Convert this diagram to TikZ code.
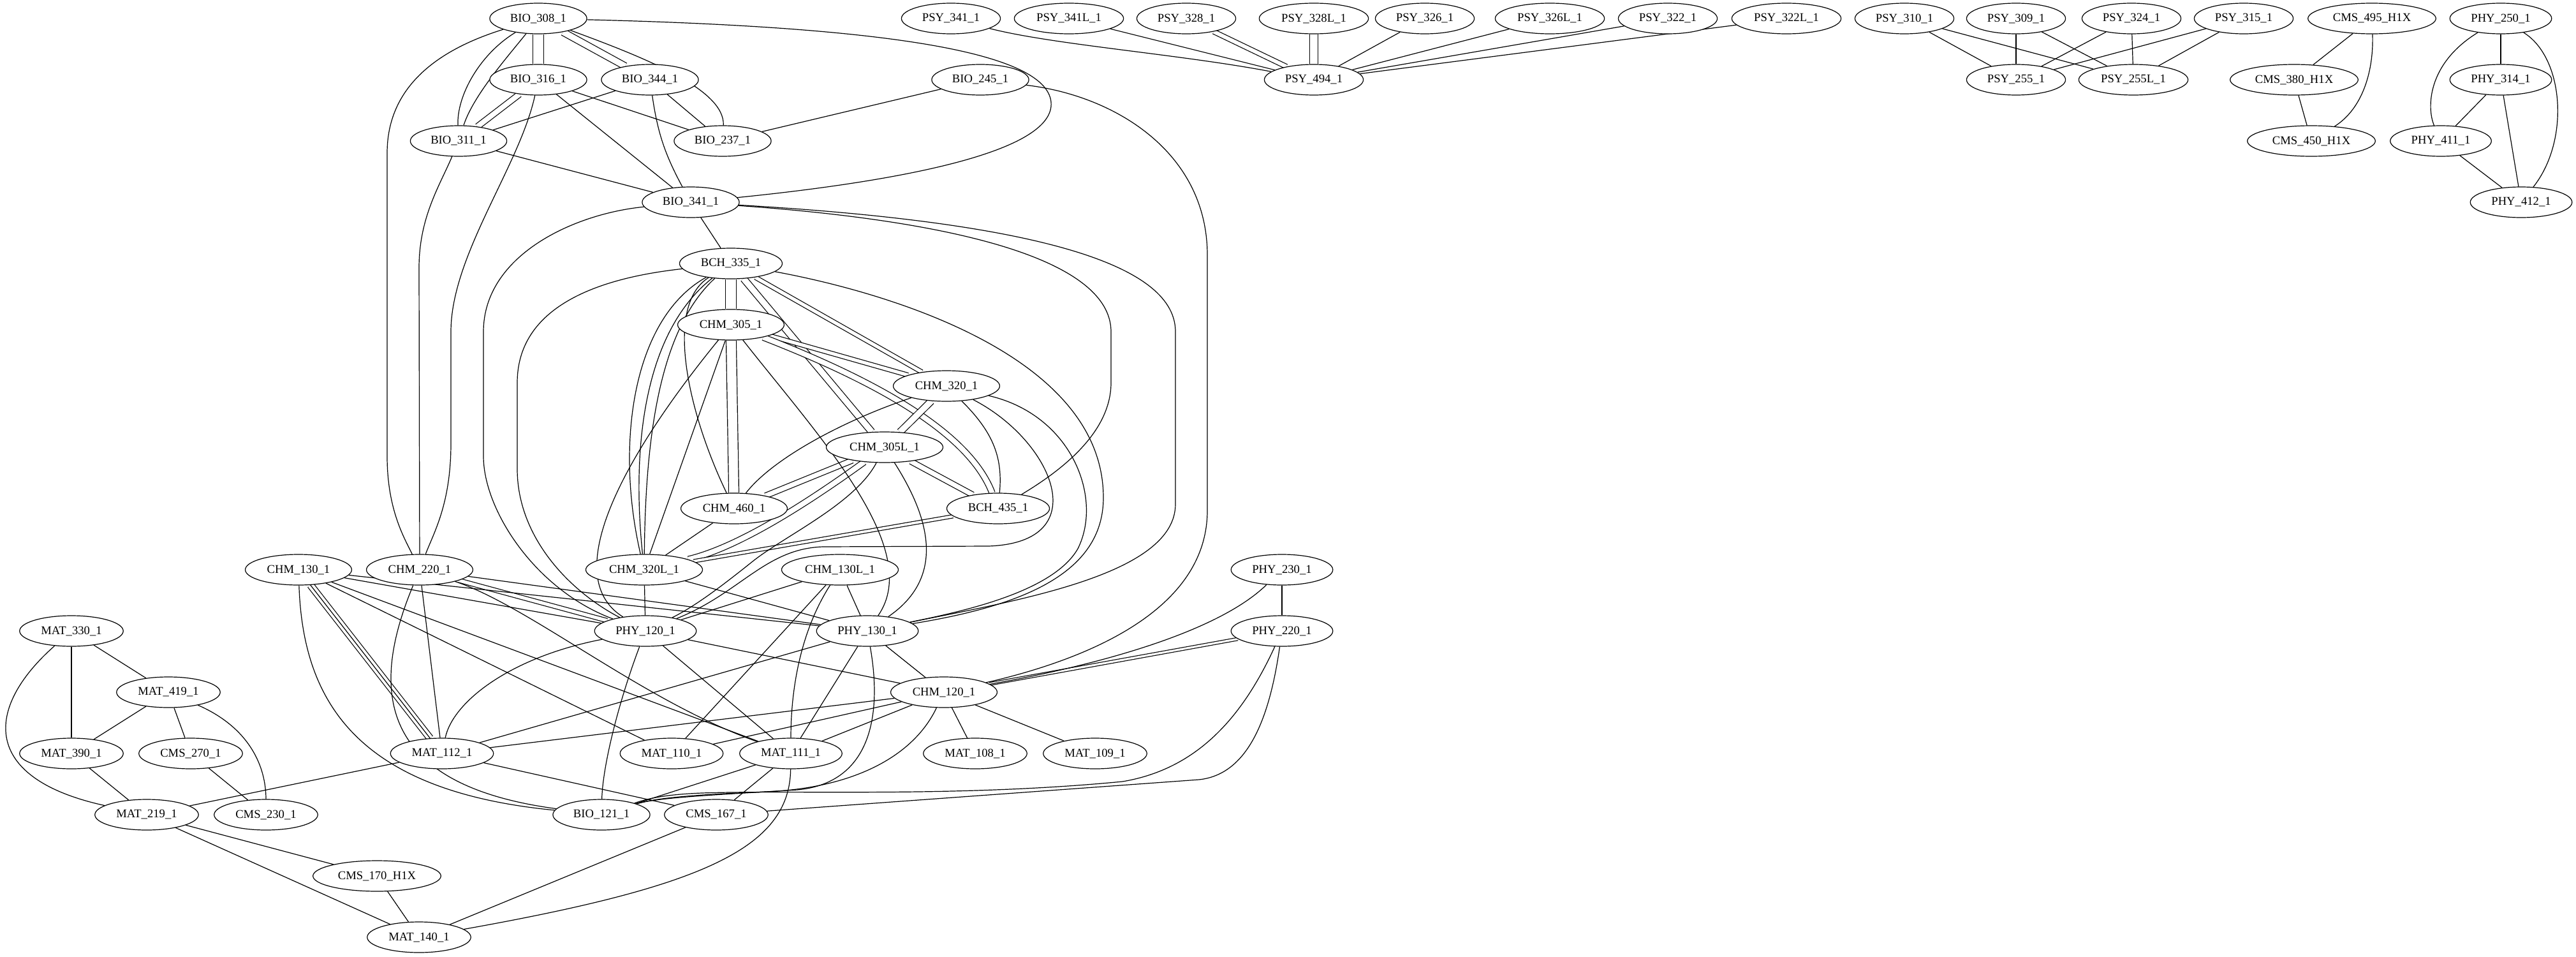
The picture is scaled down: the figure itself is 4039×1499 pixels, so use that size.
\documentclass[tikz,border=0pt]{standalone}
\usepackage{fontspec}
\setmainfont{Liberation Serif}
\usetikzlibrary{shapes.geometric}
\pgfdeclarelayer{dbl}
\pgfdeclarelayer{bg}
\pgfsetlayers{dbl,bg,main}
\begin{document}
\begin{tikzpicture}[x=0.75pt,y=-0.75pt,
  nd/.style={draw, ellipse, fill=white, line width=0.9pt, minimum height=36pt, minimum width=54pt,
             inner xsep=7.3pt, inner ysep=1pt, font=\fontsize{14}{16}\selectfont},
  ed/.style={line width=0.9pt},
  twin/.style={line width=0.9pt, double, double distance=#1}]
\useasboundingbox (0,0) rectangle (4039,1499);

% ---- courses ----
\node[nd] (b308)  at (844,29)   {BIO\_308\_1};
\node[nd] (p341)  at (1491,29)  {PSY\_341\_1};
\node[nd] (p341L) at (1676,29)  {PSY\_341L\_1};
\node[nd] (p328)  at (1860,29)  {PSY\_328\_1};
\node[nd] (p328L) at (2060,29)  {PSY\_328L\_1};
\node[nd] (p326)  at (2234,29)  {PSY\_326\_1};
\node[nd] (p326L) at (2430,29)  {PSY\_326L\_1};
\node[nd] (p322)  at (2615,29)  {PSY\_322\_1};
\node[nd] (p322L) at (2801,29)  {PSY\_322L\_1};
\node[nd] (p310)  at (2986,29)  {PSY\_310\_1};
\node[nd] (p309)  at (3161,29)  {PSY\_309\_1};
\node[nd] (p324)  at (3342,29)  {PSY\_324\_1};
\node[nd] (p315)  at (3518,29)  {PSY\_315\_1};
\node[nd] (c495)  at (3719,29)  {CMS\_495\_H1X};
\node[nd] (y250)  at (3921,29)  {PHY\_250\_1};

\node[nd] (b316)  at (844,125)  {BIO\_316\_1};
\node[nd] (b344)  at (1019,125) {BIO\_344\_1};
\node[nd] (b245)  at (1537,125) {BIO\_245\_1};
\node[nd] (p494)  at (2060,125) {PSY\_494\_1};
\node[nd] (p255)  at (3161,125) {PSY\_255\_1};
\node[nd] (p255L) at (3345,125) {PSY\_255L\_1};
\node[nd] (c380)  at (3597,125) {CMS\_380\_H1X};
\node[nd] (y314)  at (3921,125) {PHY\_314\_1};

\node[nd] (b311)  at (719,221)  {BIO\_311\_1};
\node[nd] (b237)  at (1133,221) {BIO\_237\_1};
\node[nd] (c450)  at (3624,221) {CMS\_450\_H1X};
\node[nd] (y411)  at (3827,221) {PHY\_411\_1};

\node[nd] (b341)  at (1083,317) {BIO\_341\_1};
\node[nd] (y412)  at (3953,317) {PHY\_412\_1};

\node[nd] (bch335) at (1146,413) {BCH\_335\_1};
\node[nd] (c305)   at (1146,509) {CHM\_305\_1};
\node[nd] (c320)   at (1484,605) {CHM\_320\_1};
\node[nd] (c305L)  at (1387,701) {CHM\_305L\_1};
\node[nd] (c460)   at (1151,797) {CHM\_460\_1};
\node[nd] (bch435) at (1565,797) {BCH\_435\_1};

\node[nd] (c130)  at (468,893)  {CHM\_130\_1};
\node[nd] (c220)  at (658,893)  {CHM\_220\_1};
\node[nd] (c320L) at (1010,893) {CHM\_320L\_1};
\node[nd] (c130L) at (1317,893) {CHM\_130L\_1};
\node[nd] (y230)  at (2010,893) {PHY\_230\_1};

\node[nd] (m330)  at (112,989)  {MAT\_330\_1};
\node[nd] (y120)  at (1012,989) {PHY\_120\_1};
\node[nd] (y130)  at (1360,989) {PHY\_130\_1};
\node[nd] (y220)  at (2010,989) {PHY\_220\_1};

\node[nd] (m419)  at (264,1085) {MAT\_419\_1};
\node[nd] (c120)  at (1480,1085) {CHM\_120\_1};

\node[nd] (m390)  at (112,1181) {MAT\_390\_1};
\node[nd] (s270)  at (299,1181) {CMS\_270\_1};
\node[nd] (m112)  at (693,1181) {MAT\_112\_1};
\node[nd] (m110)  at (1053,1181) {MAT\_110\_1};
\node[nd] (m111)  at (1240,1181) {MAT\_111\_1};
\node[nd] (m108)  at (1529,1181) {MAT\_108\_1};
\node[nd] (m109)  at (1717,1181) {MAT\_109\_1};

\node[nd] (m219)  at (230,1277) {MAT\_219\_1};
\node[nd] (s230)  at (417,1277) {CMS\_230\_1};
\node[nd] (b121)  at (943,1277) {BIO\_121\_1};
\node[nd] (s167)  at (1123,1277) {CMS\_167\_1};

\node[nd] (s170)  at (591,1373) {CMS\_170\_H1X};
\node[nd] (m140)  at (657,1469) {MAT\_140\_1};

% ---- repeated links, drawn as parallel strokes ----
\begin{pgfonlayer}{dbl}
\draw[twin=11.5pt] (b308) -- (b316);
\draw[twin=7pt] (b308) -- (b344);
\draw[twin=6pt] (b316) -- (b311);
\draw[twin=4.5pt] (p328) -- (p494);
\draw[twin=9pt] (p328L) -- (p494);
\draw[twin=12pt] (bch335) -- (c305);
\draw[twin=4pt] (bch335) -- (c320);
\draw[twin=7pt] (bch335) -- (c305L);
\draw[twin=4pt] (c305) -- (c320);
\draw[twin=6pt] (c305) .. controls (1380,600) and (1520,680) .. (bch435);
\draw[twin=11pt] (c305) -- (c460);
\draw[twin=7pt] (c320) -- (c305L);
\draw[twin=5.5pt] (c305L) -- (c460);
\draw[twin=5.5pt] (c305L) -- (bch435);
\draw[twin=6pt] (c305L) .. controls (1250,800) and (1150,860) .. (c320L);
\draw[twin=3pt] (bch435) -- (c320L);
\draw[twin=7pt] (c130) -- (m112);
\draw[twin=4pt] (c220) -- (y120);
\draw[twin=2.5pt] (c120) -- (y220);
\end{pgfonlayer}

% ---- single links ----
\begin{pgfonlayer}{bg}
% biology
\draw[ed] (b308) .. controls (752,85) and (716,150) .. (b311);
\draw[ed] (b308) .. controls (795,90) and (742,150) .. (b311);
\draw[ed] (b308) .. controls (1010,90) and (1137,140) .. (b237);
\draw[ed] (b308) .. controls (1380,42) and (1640,80) .. (1648,160)
                 .. controls (1655,240) and (1400,285) .. (b341);
\draw[ed] (b308) .. controls (680,80) and (607,140) .. (607,240) -- (607,715)
                 .. controls (607,800) and (635,845) .. (c220);
\draw[ed] (b316) -- (b237);
\draw[ed] (b316) -- (b341);
\draw[ed] (b316) .. controls (815,260) and (707,400) .. (707,520) -- (707,695)
                 .. controls (707,790) and (680,835) .. (c220);
\draw[ed] (b344) -- (b311);
\draw[ed] (b344) -- (b237);
\draw[ed] (b344) to[bend right=10] (b341);
\draw[ed] (b311) -- (b341);
\draw[ed] (b311) .. controls (690,290) and (657,340) .. (657,420) -- (c220);
\draw[ed] (b237) -- (b245);
\draw[ed] (b245) .. controls (1750,150) and (1893,240) .. (1893,400) -- (1893,800)
                 .. controls (1893,950) and (1720,1030) .. (c120);
\draw[ed] (b341) -- (bch335);
\draw[ed] (b341) .. controls (900,335) and (758,400) .. (758,520) -- (758,715)
                 .. controls (758,800) and (840,925) .. (y120);
\draw[ed] (b341) .. controls (1650,350) and (1843,420) .. (1843,520) -- (1843,790)
                 .. controls (1843,900) and (1600,940) .. (y130);
\draw[ed] (b341) .. controls (1550,350) and (1742,420) .. (1742,520) -- (1742,600)
                 .. controls (1742,680) and (1660,740) .. (bch435);

% psychology
\draw[ed] (p341) .. controls (1650,70) and (1850,85) .. (p494);
\draw[ed] (p341L) -- (p494);
\draw[ed] (p326) -- (p494);
\draw[ed] (p326L) -- (p494);
\draw[ed] (p322) -- (p494);
\draw[ed] (p322L) -- (p494);
\foreach \a in {p310,p309,p324,p315} {
  \draw[ed] (\a) -- (p255);
  \draw[ed] (\a) -- (p255L);
}

% computer science and physics, upper right
\draw[ed] (c495) -- (c380);
\draw[ed] (c380) -- (c450);
\draw[ed] (c495) .. controls (3722,110) and (3705,170) .. (c450);
\draw[ed] (y250) -- (y314);
\draw[ed] (y250) .. controls (3805,100) and (3805,170) .. (y411);
\draw[ed] (y250) .. controls (4020,90) and (4030,220) .. (y412);
\draw[ed] (y314) -- (y411);
\draw[ed] (y314) -- (y412);
\draw[ed] (y411) -- (y412);

% biochemistry and chemistry core
\draw[ed] (bch335) .. controls (900,440) and (811,500) .. (811,600) -- (811,735)
                   .. controls (811,840) and (890,925) .. (y120);
\draw[ed] (bch335) .. controls (990,500) and (965,700) .. (c320L);
\draw[ed] (bch335) .. controls (1010,520) and (990,700) .. (c320L);
\draw[ed] (bch335) .. controls (1030,520) and (1012,700) .. (c320L);
\draw[ed] (bch335) .. controls (1040,480) and (1080,650) .. (c460);
\draw[ed] (bch335) .. controls (1400,460) and (1730,560) .. (1730,780)
                   .. controls (1730,900) and (1600,950) .. (y130);
\draw[ed] (c305) -- (c320L);
\draw[ed] (c305) .. controls (990,700) and (870,900) .. (y120);
\draw[ed] (c305) .. controls (1280,680) and (1450,860) .. (y130);
\draw[ed] (c320) .. controls (1320,660) and (1210,720) .. (c460);
\draw[ed] (c320) .. controls (1560,680) and (1572,720) .. (bch435);
\draw[ed] (c320) .. controls (1650,690) and (1720,850) .. (1550,856) -- (1290,857)
                 .. controls (1200,860) and (1160,930) .. (y120);
\draw[ed] (c320) .. controls (1680,650) and (1730,780) .. (1690,860)
                 .. controls (1650,930) and (1500,960) .. (y130);
\draw[ed] (c305L) .. controls (1340,790) and (1230,840) .. (1180,880)
                  .. controls (1130,920) and (1090,950) .. (y120);
\draw[ed] (c305L) .. controls (1450,800) and (1490,900) .. (y130);
\draw[ed] (c460) -- (c320L);
\draw[ed] (c320L) -- (y120);
\draw[ed] (c320L) -- (y130);
\draw[ed] (c130L) -- (y120);
\draw[ed] (c130L) -- (y130);
\draw[ed] (c130L) -- (m110);
\draw[ed] (c130L) .. controls (1255,990) and (1240,1080) .. (m111);

% introductory chemistry and physics
\draw[ed] (c130) .. controls (475,1100) and (560,1240) .. (b121);
\draw[ed] (c130) -- (m112);
\draw[ed] (c130) -- (m110);
\draw[ed] (c130) -- (m111);
\draw[ed] (c130) -- (y120);
\draw[ed] (c130) -- (y130);
\draw[ed] (c220) -- (y130);
\draw[ed] (c220) .. controls (830,950) and (1010,1100) .. (m111);
\draw[ed] (c220) .. controls (580,1080) and (590,1230) .. (b121);
\draw[ed] (c220) -- (m112);
\draw[ed] (y120) .. controls (800,1030) and (710,1100) .. (m112);
\draw[ed] (y120) .. controls (970,1100) and (945,1200) .. (b121);
\draw[ed] (y120) -- (m111);
\draw[ed] (y120) -- (c120);
\draw[ed] (y130) -- (m112);
\draw[ed] (y130) -- (m111);
\draw[ed] (y130) -- (c120);
\draw[ed] (y130) .. controls (1385,1130) and (1360,1228) .. (1250,1238)
                 .. controls (1120,1246) and (1030,1250) .. (b121);
\draw[ed] (y230) .. controls (1900,1000) and (1680,1050) .. (c120);
\draw[ed] (c120) -- (m112);
\draw[ed] (c120) -- (m110);
\draw[ed] (c120) -- (m111);
\draw[ed] (c120) -- (m108);
\draw[ed] (c120) -- (m109);
\draw[ed] (c120) .. controls (1430,1190) and (1330,1236) .. (1200,1241)
                 .. controls (1100,1245) and (1030,1250) .. (b121);
\draw[ed] (y220) -- (y230);
\draw[ed] (y220) .. controls (1950,1120) and (1880,1205) .. (1760,1225)
                 .. controls (1500,1250) and (1250,1238) .. (1100,1243)
                 .. controls (1050,1245) and (1020,1250) .. (b121);
\draw[ed] (y220) .. controls (1990,1130) and (1955,1214) .. (1880,1222) -- (s167);

% mathematics
\draw[ed] (m111) -- (b121);
\draw[ed] (m111) -- (s167);
\draw[ed] (m111) .. controls (1238,1330) and (1100,1390) .. (m140);
\draw[ed] (m112) -- (m219);
\draw[ed] (m112) -- (s167);
\draw[ed] (s167) -- (m140);
\draw[ed] (m330) -- (m390);
\draw[ed] (m330) -- (m419);
\draw[ed] (m330) .. controls (-25,1110) and (-30,1220) .. (m219);
\draw[ed] (m419) -- (m390);
\draw[ed] (m419) -- (s270);
\draw[ed] (m419) .. controls (390,1140) and (417,1200) .. (s230);
\draw[ed] (m390) -- (m219);
\draw[ed] (s270) -- (s230);
\draw[ed] (m219) -- (s170);
\draw[ed] (m219) -- (m140);
\draw[ed] (s170) -- (m140);
\end{pgfonlayer}
\end{tikzpicture}
\end{document}
